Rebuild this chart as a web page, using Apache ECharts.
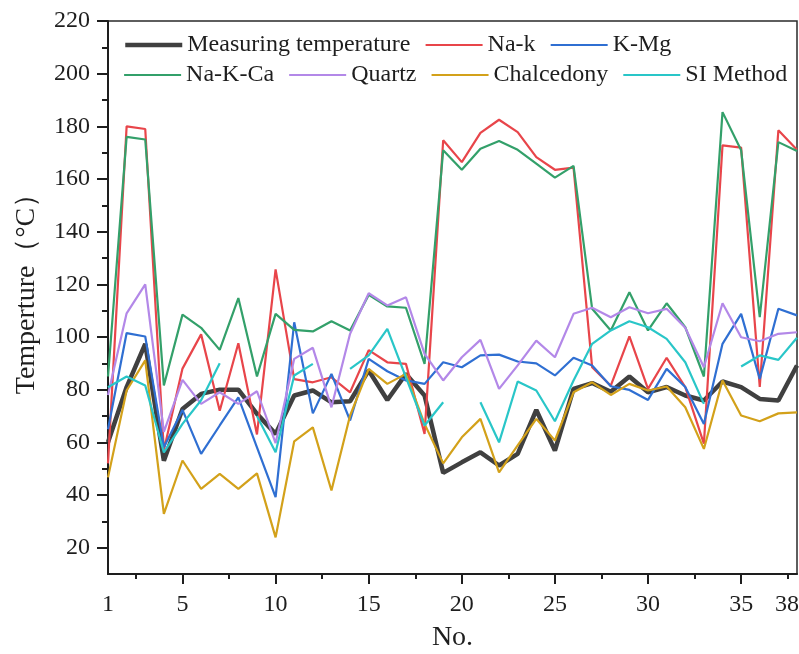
<!DOCTYPE html>
<html>
<head>
<meta charset="utf-8">
<script src="https://cdn.jsdelivr.net/npm/echarts@6/dist/echarts.min.js"></script>
<style>
  html, body { margin: 0; padding: 0; background: #fff; }
  #chart { width: 799px; height: 654px; }
</style>
</head>
<body>
<div id="chart"></div>
<script>
// Sample numbers along the x axis
const nos = [1, 2, 3, 4, 5, 6, 7, 8, 9, 10, 11, 12, 13, 14, 15, 16, 17, 18, 19, 20,
             21, 22, 23, 24, 25, 26, 27, 28, 29, 30, 31, 32, 33, 34, 35, 36, 37, 38];

// Temperatures (°C) per sample
const measured = [60, 81, 97.4, 53, 72.7, 78.4, 80, 80, 70.8, 63.2,
                  77.8, 79.7, 75.2, 75.6, 87.3, 76.1, 86, 77.8, 48.4, 52.4,
                  56.2, 51.2, 55.6, 72.3, 56.9, 80.3, 82.5, 79.2, 85, 79,
                  81, 77.8, 75.9, 83.1, 81, 76.5, 75.9, 89.2];
const naK = [52, 180, 179, 57, 88, 101, 72, 97.6, 63, 125.7,
             84, 82.8, 84.7, 79, 95, 90.4, 89.8, 63.2, 174.7, 166.4,
             177.5, 182.5, 177.8, 168.3, 163.5, 164.3, 88.5, 81.5, 100.2, 80.3,
             92.1, 81, 59.5, 172.8, 171.9, 81, 178.5, 171.1];
const kMg = [65, 101.5, 100.2, 58.1, 72.3, 55.6, 66.4, 77.1, 58.1, 39.2,
             105.6, 71, 86, 68.3, 91.7, 87, 83.5, 82.2, 90.4, 88.5,
             93, 93.3, 90.7, 90, 85.4, 92.1, 89.2, 81.3, 79.9, 76.1,
             87.9, 81, 67, 97.4, 108.8, 84.1, 110.7, 108.2];
const naKCa = [85, 176, 175, 81.6, 108.5, 103.5, 95.1, 114.8, 85, 108.8,
               102.7, 102.1, 106, 102.5, 116, 111.6, 111.1, 89.8, 170.9, 163.5,
               171.5, 174.4, 171.1, 165.8, 160.5, 165, 110.7, 102.5, 117, 102.5,
               112.8, 103.7, 85, 185.4, 170.9, 107.5, 174, 170.6];
const quartz = [78, 109, 120, 64, 83.7, 74.6, 79, 74.6, 79.4, 59.7,
                91.7, 95.9, 73.3, 101.2, 116.6, 112, 115.1, 93.6, 83.5, 92.3,
                98.9, 80.3, 89.2, 98.6, 92.3, 108.8, 111.1, 107.5, 111.3, 109,
                110.7, 103.5, 88.5, 112.8, 99.9, 98.4, 101.2, 101.8];
const chalcedony = [46.7, 79.7, 91.1, 32.8, 53.1, 42.3, 48, 42.3, 48.2, 23.9,
                    60.4, 65.7, 41.7, 70.2, 87.9, 82.2, 86, 67, 52, 61.9,
                    68.9, 48.6, 58.8, 68.9, 60.7, 79, 82.8, 78, 82.2, 79.7,
                    81.2, 73.3, 57.5, 83.5, 70.2, 68, 71, 71.4];
const siMethod = [80.9, 85, 81.6, 56.2, 67, 76, 90, null, 70, 56.2,
                  85.4, 89.8, null, 87.9, 93, 103.1, 84.7, 66.4, 75.2, null,
                  75.2, 60, 83.1, 79.7, 68, 83.5, 97.4, 102.5, 106, 103.7,
                  99.3, 90.4, 74.6, null, 88.8, 93, 91.3, 99.7];

// Axis tick labels
const xLabels = [1, 5, 10, 15, 20, 25, 30, 35, 38];
const xMajorTicks = [5, 10, 15, 20, 25, 30, 35];
const xMinorTicks = [2.5, 7.5, 12.5, 17.5, 22.5, 27.5, 32.5, 37.5];
const yLabels = [20, 40, 60, 80, 100, 120, 140, 160, 180, 200, 220];
const yMinorTicks = [30, 50, 70, 90, 110, 130, 150, 170, 190, 210];

const FONT = 'Liberation Serif';
const INK = '#1e1e1e';

const seriesDefs = [
  { name: 'Measuring temperature', data: measured, color: '#404040', width: 4.5 },
  { name: 'Na-k', data: naK, color: '#e8454a', width: 2.2 },
  { name: 'K-Mg', data: kMg, color: '#2f6fd2', width: 2.2 },
  { name: 'Na-K-Ca', data: naKCa, color: '#33a06a', width: 2.2 },
  { name: 'Quartz', data: quartz, color: '#b388e8', width: 2.2 },
  { name: 'Chalcedony', data: chalcedony, color: '#d3a11a', width: 2.2 },
  { name: 'SI Method', data: siMethod, color: '#29c6c8', width: 2.2 }
];

// Plain line keys: the symbol part of each key is made invisible
const legendCommon = {
  orient: 'horizontal',
  left: 123,
  padding: 0,
  itemWidth: 57,
  itemHeight: 14,
  itemGap: 14,
  itemStyle: { opacity: 0 },
  lineStyle: { width: 'inherit' },
  textStyle: { fontFamily: FONT, fontSize: 24, color: INK }
};

const chart = echarts.init(document.getElementById('chart'), null, { renderer: 'canvas' });

chart.setOption({
  animation: false,
  backgroundColor: '#ffffff',
  grid: {
    left: 108, right: 2, top: 21, bottom: 80,
    outerBoundsMode: 'none',
    containLabel: false,
    show: true, borderColor: '#2a2a2a', borderWidth: 1.5
  },
  legend: [
    Object.assign({ top: 33, data: ['Measuring temperature', 'Na-k', 'K-Mg'] }, legendCommon),
    Object.assign({ top: 63, data: ['Na-K-Ca', 'Quartz', 'Chalcedony', 'SI Method'] }, legendCommon)
  ],
  xAxis: [
    {
      type: 'value', position: 'bottom', min: 1, max: 38,
      name: 'No.', nameLocation: 'middle', nameGap: 50,
      nameTextStyle: { fontFamily: FONT, fontSize: 28, color: INK },
      axisLine: { lineStyle: { color: INK, width: 2 } },
      axisTick: { customValues: xMajorTicks, length: 10, lineStyle: { color: INK, width: 2 } },
      axisLabel: {
        customValues: xLabels, margin: 19,
        fontFamily: FONT, fontSize: 24, color: INK,
        formatter: v => (v === 38 ? '{r|38}' : String(v)),
        rich: { r: { fontFamily: FONT, fontSize: 24, color: INK, padding: [0, 20, 0, 0] } }
      },
      splitLine: { show: false }
    },
    {
      type: 'value', position: 'bottom', min: 1, max: 38,
      axisLine: { show: false },
      axisTick: { customValues: xMinorTicks, length: 5, lineStyle: { color: INK, width: 2 } },
      axisLabel: { show: false },
      splitLine: { show: false }
    }
  ],
  yAxis: [
    {
      type: 'value', position: 'left', min: 10, max: 220,
      axisLine: { show: true, lineStyle: { color: INK, width: 2 } },
      axisTick: { show: true, customValues: yLabels, length: 11, lineStyle: { color: INK, width: 2 } },
      axisLabel: { customValues: yLabels, margin: 18, fontFamily: FONT, fontSize: 24, color: INK },
      splitLine: { show: false }
    },
    {
      type: 'value', position: 'left', min: 10, max: 220,
      axisLine: { show: false },
      axisTick: { show: true, customValues: yMinorTicks, length: 6, lineStyle: { color: INK, width: 2 } },
      axisLabel: { show: false },
      splitLine: { show: false }
    }
  ],
  graphic: [
    {
      type: 'text', x: 27, y: 287, rotation: Math.PI / 2,
      style: {
        text: 'Temperture（°C）', fontFamily: FONT, fontSize: 28, fill: INK,
        align: 'center', verticalAlign: 'middle'
      }
    }
  ],
  series: seriesDefs.map(s => ({
    name: s.name,
    type: 'line',
    xAxisIndex: 0,
    yAxisIndex: 0,
    symbol: 'none',
    connectNulls: false,
    data: nos.map((n, i) => [n, s.data[i]]),
    itemStyle: { color: s.color },
    lineStyle: { color: s.color, width: s.width }
  }))
});
</script>
</body>
</html>
